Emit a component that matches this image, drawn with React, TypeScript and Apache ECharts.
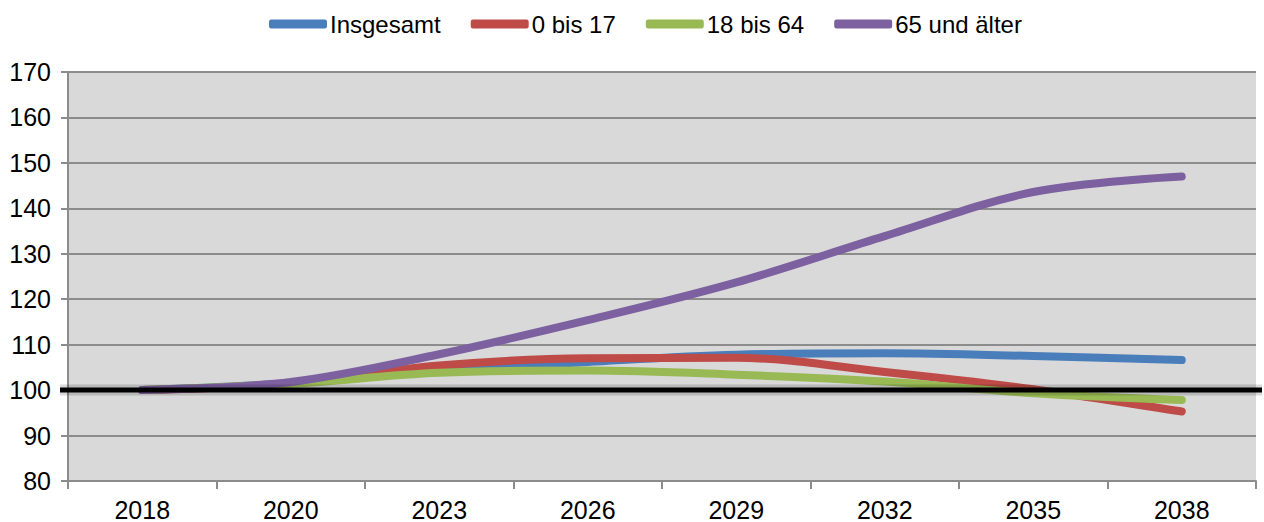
import React, { useEffect, useRef } from "react";
import * as echarts from "echarts";

const years = ["2018", "2020", "2023", "2026", "2029", "2032", "2035", "2038"];
const insgesamt = [100, 101.5, 104.2, 106.2, 107.8, 108.1, 107.5, 106.6];
const bis17 = [100, 101.5, 105.4, 107.0, 107.1, 104.0, 100.2, 95.3];
const bis64 = [100, 101.4, 103.8, 104.3, 103.4, 101.9, 99.3, 97.8];
const ueber65 = [100, 101.8, 107.9, 115.4, 123.7, 133.9, 143.6, 147.0];
const seriesNames = ["Insgesamt", "0 bis 17", "18 bis 64", "65 und älter"];
const colors = ["#4A7EBB", "#BE4B48", "#98B954", "#7D60A0"];
const baseline = 100;
const yMin = 80;
const yMax = 170;
const yStep = 10;

const FONT = "Liberation Sans, Arial, sans-serif";

export default function App() {
  const ref = useRef<HTMLDivElement>(null);
  useEffect(() => {
    if (!ref.current) return;
    const chart = echarts.init(ref.current, null, { renderer: "svg" });
    const data = [insgesamt, bis17, bis64, ueber65];
    const gridTop = 72;
    const gridBottom = 41;
    const baseData = [
      [0, baseline],
      [1, baseline],
    ];
    chart.setOption({
      animation: false,
      textStyle: { fontFamily: FONT },
      legend: {
        top: 7,
        left: 264,
        itemWidth: 58,
        itemHeight: 9,
        itemGap: 30,
        icon: "roundRect",
        textStyle: { fontSize: 24, color: "#000", fontFamily: FONT, padding: [0, 0, 0, -2] },
        data: seriesNames,
      },
      grid: [
        {
          left: 68,
          right: 8,
          top: gridTop,
          bottom: gridBottom,
          show: true,
          backgroundColor: "#D9D9D9",
          borderWidth: 0,
        },
        {
          left: 60,
          right: 2,
          top: gridTop,
          bottom: gridBottom,
          show: false,
        },
      ],
      xAxis: [
        {
          type: "category",
          gridIndex: 0,
          data: years,
          boundaryGap: true,
          axisLine: { lineStyle: { color: "#8C8C8C", width: 2 } },
          axisTick: { show: true, length: 8, lineStyle: { color: "#8C8C8C", width: 2 } },
          axisLabel: { fontSize: 25, color: "#000", margin: 16, fontFamily: FONT },
        },
        { type: "value", gridIndex: 1, min: 0, max: 1, show: false },
      ],
      yAxis: [
        {
          type: "value",
          gridIndex: 0,
          min: yMin,
          max: yMax,
          interval: yStep,
          axisLine: { show: true, lineStyle: { color: "#8C8C8C", width: 2 } },
          axisTick: { show: true, length: 7, lineStyle: { color: "#8C8C8C", width: 2 } },
          splitLine: { lineStyle: { color: "#8C8C8C", width: 2 } },
          axisLabel: { fontSize: 25, color: "#000", margin: 17, fontFamily: FONT },
        },
        { type: "value", gridIndex: 1, min: yMin, max: yMax, show: false },
      ],
      series: [
        ...seriesNames.map((name, i) => ({
          name,
          type: "line",
          data: data[i],
          smooth: 0.35,
          showSymbol: false,
          symbol: "none",
          color: colors[i],
          lineStyle: { width: 8, color: colors[i], cap: "round", join: "round" },
          z: 2 + i,
        })),
        {
          name: "BasisSchatten",
          type: "line",
          xAxisIndex: 1,
          yAxisIndex: 1,
          data: baseData,
          showSymbol: false,
          symbol: "none",
          silent: true,
          z: 19,
          lineStyle: { color: "rgba(0,0,0,0.15)", width: 11 },
        },
        {
          name: "Basis",
          type: "line",
          xAxisIndex: 1,
          yAxisIndex: 1,
          data: baseData,
          showSymbol: false,
          symbol: "none",
          silent: true,
          z: 20,
          lineStyle: { color: "#000", width: 5 },
        },
      ],
    });
    return () => chart.dispose();
  }, []);
  return <div ref={ref} style={{ width: 1264, height: 522, position: "absolute", left: 0, top: 0 }} />;
}
